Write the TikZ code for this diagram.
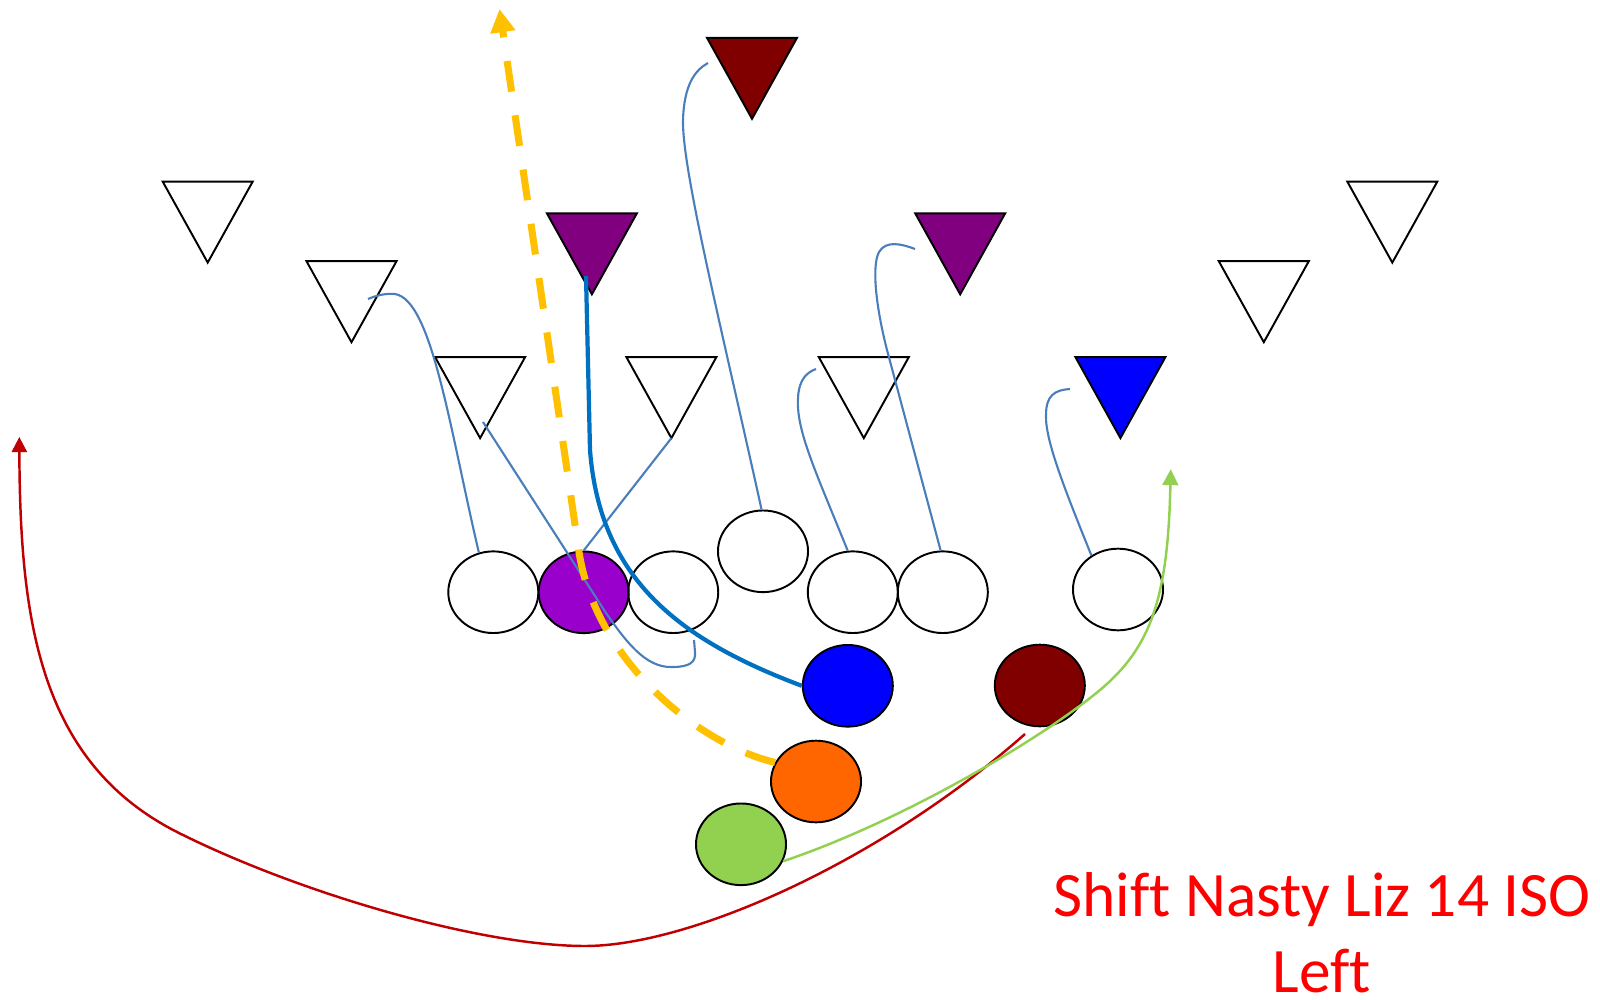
\documentclass[tikz,border=0pt]{standalone}
\usepackage{fontspec}
\setmainfont{Carlito}[Ligatures=NoCommon]
\usetikzlibrary{arrows.meta,calc,shapes.geometric}
\definecolor{purptri}{RGB}{128,0,128}
\definecolor{purpc}{RGB}{153,0,204}
\definecolor{maroon}{RGB}{128,0,0}
\definecolor{orng}{RGB}{255,102,0}
\definecolor{lgreen}{RGB}{146,208,80}
\definecolor{routeblue}{RGB}{74,126,187}
\definecolor{qbblue}{RGB}{0,112,192}
\definecolor{ydash}{RGB}{255,192,0}
\definecolor{rroute}{RGB}{192,0,0}
\tikzset{
  pics/dtri/.style={code={
    \draw[black,line width=0.55pt,fill=#1] (-45,-40.5) -- (45,-40.5) -- (0,40.5) -- cycle;
    \coordinate (-apex) at (0,40.5);}},
  player/.style={draw=black,line width=0.55pt,ellipse,minimum width=0.9cm,minimum height=0.816cm,inner sep=0pt},
  route/.style={draw=routeblue,line width=0.6pt},
  qbroute/.style={draw=qbblue,line width=1.2pt},
  yroute/.style={draw=ydash,line width=2pt,dash pattern=on 8.8pt off 6.8pt,-{Triangle[width=6.8pt,length=6.6pt]}},
  rroute/.style={draw=rroute,line width=0.7pt,-{Triangle[width=4.3pt,length=4.3pt]}},
  groute/.style={draw=lgreen,line width=0.7pt,-{Triangle[width=4.5pt,length=4.5pt]}},
}
\begin{document}
\begin{tikzpicture}[x=0.01cm,y=-0.01cm]
\useasboundingbox (0,0) rectangle (1600,1000);
% defenders
\pic (t1) at (207.7,222.1) {dtri=white};
\pic (t2) at (351.5,301.7) {dtri=white};
\pic (t3) at (480.1,397.6) {dtri=white};
\pic (t4) at (591.9,253.8) {dtri=purptri};
\pic (t5) at (671.4,397.6) {dtri=white};
\pic (t6) at (752.0,78.3) {dtri=maroon};
\pic (t7) at (863.8,397.6) {dtri=white};
\pic (t8) at (960.2,253.8) {dtri=purptri};
\pic (t9) at (1120.4,397.6) {dtri=blue};
\pic (t10) at (1263.8,301.7) {dtri=white};
\pic (t11) at (1392.3,222.1) {dtri=white};
% offense
\node[player] (c1) at (493.3,592.2) {};
\node[player,fill=purpc] (c2) at (583.7,592.3) {};
\node[player] (c3) at (673.2,592.2) {};
\node[player] (c4) at (763,551.3) {};
\node[player] (c5) at (852.8,592.2) {};
\node[player] (c6) at (942.8,592.2) {};
\node[player] (c7) at (1118,589.5) {};
\node[player,fill=blue] (bl) at (847.8,685.8) {};
\node[player,fill=maroon] (dr) at (1039.8,685.5) {};
\node[player,fill=orng] (or) at (816,781.5) {};
\node[player,fill=lgreen] (gr) at (741,844.3) {};
% free ends
\coordinate (r1e) at (368,299);
\coordinate (r2s) at (694,640);
\coordinate (r2e) at (483,422);
\coordinate (r4e) at (708,63);
\coordinate (r5e) at (816,369);
\coordinate (r6e) at (915,249);
\coordinate (r7e) at (1070,389);
\coordinate (qbe) at (586,276);
\coordinate (ye) at (499.5,9);
\coordinate (rs) at (1025,734);
\coordinate (re) at (19.3,437);
\coordinate (ge) at (1170.7,469.3);
% blocking routes
\draw[route] (c1.110) .. controls (450,430) and (432,300) .. (395,294) .. controls (385,293) and (375,296) .. (r1e);
\draw[route] (r2s) -- (695,652) .. controls (696,662) and (690,667) .. (672,667) .. controls (645,668) and (625,640) .. (606,613) -- (r2e);
\draw[route] (c2.north) -- (t5-apex);
\draw[route] (c4.92) .. controls (722,330) and (682,170) .. (683,120) .. controls (684,85) and (695,70) .. (r4e);
\draw[route] (c5.97) .. controls (815,470) and (796,430) .. (798,398) .. controls (799,378) and (808,372) .. (r5e);
\draw[route] (c6.93) -- (887,350) .. controls (875,303) and (872,265) .. (879,252) .. controls (886,240) and (902,244) .. (r6e);
\draw[route] (c7.128) .. controls (1065,490) and (1045,440) .. (1046,415) .. controls (1046,395) and (1055,390) .. (r7e);
% backfield
\draw[qbroute] (bl.west) .. controls (680,640) and (600,580) .. (590,450) -- (qbe);
\draw[yroute] (or.155) .. controls (700,745) and (592,660) .. (578,545) -- (ye);
\draw[rroute] (rs) .. controls (880,862) and (690,946) .. (585,946) .. controls (480,946) and (299,893) .. (179,833) .. controls (39,763) and (20,620) .. (re);
\draw[groute] (gr.-22) .. controls (900,822) and (1040,740) .. (1100,690) .. controls (1150,648) and (1168,600) .. (ge);
% label
\node[font=\fontsize{18}{21.8}\selectfont,text=red,align=center,inner sep=0pt,anchor=base] (lbl) at (1322,992.7) {Shift Nasty Liz 14 ISO\\Left};
\end{tikzpicture}
\end{document}
